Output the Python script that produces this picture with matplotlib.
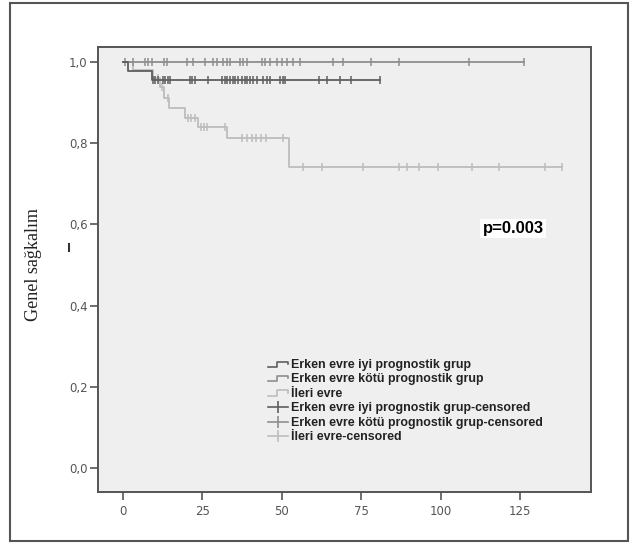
import numpy as np
import matplotlib
matplotlib.use("Agg")
import matplotlib.pyplot as plt
from matplotlib.lines import Line2D
from matplotlib.patches import Rectangle
from matplotlib.legend_handler import HandlerBase

# Kaplan-Meier curves (months, survival)
iyi_times = [0, 1.5, 9.0]
iyi_surv = [1.0, 0.978, 0.955]
iyi_end = 80.9
iyi_cens = [9.4, 10.1, 11.0, 12.6, 13.2, 14.2, 14.8, 21.1, 21.7, 22.7, 26.8,
            31.2, 32.1, 32.7, 33.7, 34.6, 35.3, 36.2, 37.5, 38.4, 39.0, 40.0,
            40.9, 42.2, 44.1, 45.3, 46.3, 49.4, 50.4, 51.0, 61.7, 64.2, 68.3,
            71.8, 80.9]

kotu_times = [0]
kotu_surv = [1.0]
kotu_end = 126.3
kotu_cens = [0.5, 3.1, 6.9, 7.9, 9.1, 12.9, 13.9, 20.2, 22.0, 25.8, 28.3, 29.6,
             31.5, 32.7, 33.7, 36.8, 37.8, 39.0, 43.8, 44.7, 46.3, 48.5, 50.1,
             51.6, 53.5, 55.7, 66.1, 69.3, 78.1, 86.9, 108.9, 126.3]

ileri_times = [0, 3.0, 9.5, 11.5, 13.0, 14.5, 19.5, 23.6, 32.7, 52.3]
ileri_surv = [1.0, 0.98, 0.961, 0.938, 0.911, 0.887, 0.862, 0.840, 0.813, 0.741]
ileri_end = 138.2
ileri_cens = [11.0, 12.4, 14.0, 20.5, 21.5, 22.5, 24.5, 25.5, 26.5, 32.0,
              37.5, 39.0, 40.5, 42.0, 43.5, 45.0, 50.5, 56.7, 62.7, 75.6,
              86.9, 89.4, 93.2, 99.2, 109.9, 118.4, 132.9, 138.2]

labels = ["Erken evre iyi prognostik grup",
          "Erken evre kötü prognostik grup",
          "İleri evre",
          "Erken evre iyi prognostik grup-censored",
          "Erken evre kötü prognostik grup-censored",
          "İleri evre-censored"]

xticks = [0, 25, 50, 75, 100, 125]
yticks = [0.0, 0.2, 0.4, 0.6, 0.8, 1.0]

c_iyi = "#5e5e5e"
c_kotu = "#8e8e8e"
c_ileri = "#bdbdbd"


def surv_at(times, surv, t):
    idx = np.searchsorted(times, t, side="right") - 1
    return np.asarray(surv)[idx]


class StepHandler(HandlerBase):
    def create_artists(self, legend, orig_handle, xdescent, ydescent,
                       width, height, fontsize, trans):
        x0 = -xdescent
        lo = -ydescent + height * 0.15
        hi = -ydescent + height * 0.75
        xs = [x0, x0 + width * 0.45, x0 + width * 0.45, x0 + width, x0 + width]
        ys = [lo, lo, hi, hi, hi - height * 0.25]
        ln = Line2D(xs, ys, color=orig_handle.get_color(),
                    lw=orig_handle.get_linewidth())
        ln.set_transform(trans)
        return [ln]


fig = plt.figure(figsize=(6.37, 5.44), dpi=100)
ax = fig.add_axes([98 / 637, 1 - 492 / 544, 493 / 637, 445 / 544])
ax.set_facecolor("#efefef")

groups = [(ileri_times, ileri_surv, ileri_end, ileri_cens, c_ileri),
          (kotu_times, kotu_surv, kotu_end, kotu_cens, c_kotu),
          (iyi_times, iyi_surv, iyi_end, iyi_cens, c_iyi)]
for times, surv, end, cens, col in groups:
    ax.step(list(times) + [end], list(surv) + [surv[-1]], where="post",
            color=col, lw=1.3)
    ax.plot(cens, surv_at(times, surv, cens), ls="none", marker="|",
            ms=5.5, mew=1.1, color=col)

ax.set_xlim(-7.9, 147.4)
ax.set_ylim(-0.059, 1.037)
ax.set_xticks(xticks)
ax.set_yticks(yticks)
ax.set_yticklabels([f"{v:.1f}".replace(".", ",") for v in yticks])
ax.tick_params(colors="#555555", labelsize=8.5, length=6, width=1.2,
               labelcolor="#555555")
ax.tick_params(axis="y", pad=1.5)
for s in ax.spines.values():
    s.set_color("#555555")
    s.set_linewidth(1.4)

fig.text(513 / 637, 1 - 228 / 544, "p=0.003", ha="center",
         va="center", fontsize=12, fontweight="bold", family="Liberation Sans",
         bbox=dict(facecolor="white", edgecolor="none", pad=1.5))

h_lines = [Line2D([], [], color=c, lw=1.2) for c in (c_iyi, c_kotu, c_ileri)]
h_cens = [Line2D([], [], color=c, lw=1.2, marker="|", ms=9, mew=1.2)
          for c in (c_iyi, c_kotu, c_ileri)]
leg = ax.legend(h_lines + h_cens, labels,
                handler_map={h: StepHandler() for h in h_lines},
                loc="upper left", bbox_to_anchor=(268 / 637, 1 - 359 / 544),
                bbox_transform=fig.transFigure, frameon=False,
                prop=dict(family="Liberation Sans", weight="bold", size=8.9),
                handlelength=1.6, handletextpad=0.3, labelspacing=0.2,
                borderpad=0, borderaxespad=0)
for t in leg.get_texts():
    t.set_color("#222222")

fig.text(33 / 637, 1 - 265 / 544, "Genel sağkalım", rotation=90,
         ha="center", va="center", fontsize=13, family="Liberation Serif",
         color="#222222")
fig.add_artist(Line2D([69 / 637, 69 / 637], [1 - 244 / 544, 1 - 251 / 544],
                      transform=fig.transFigure, color="#333333", lw=1.5))
fig.add_artist(Rectangle((10 / 637, 1 - 541 / 544), 618 / 637, 538 / 544,
                         transform=fig.transFigure, fill=False,
                         edgecolor="#555555", lw=1.5))

fig.savefig("out.png", dpi=100)
